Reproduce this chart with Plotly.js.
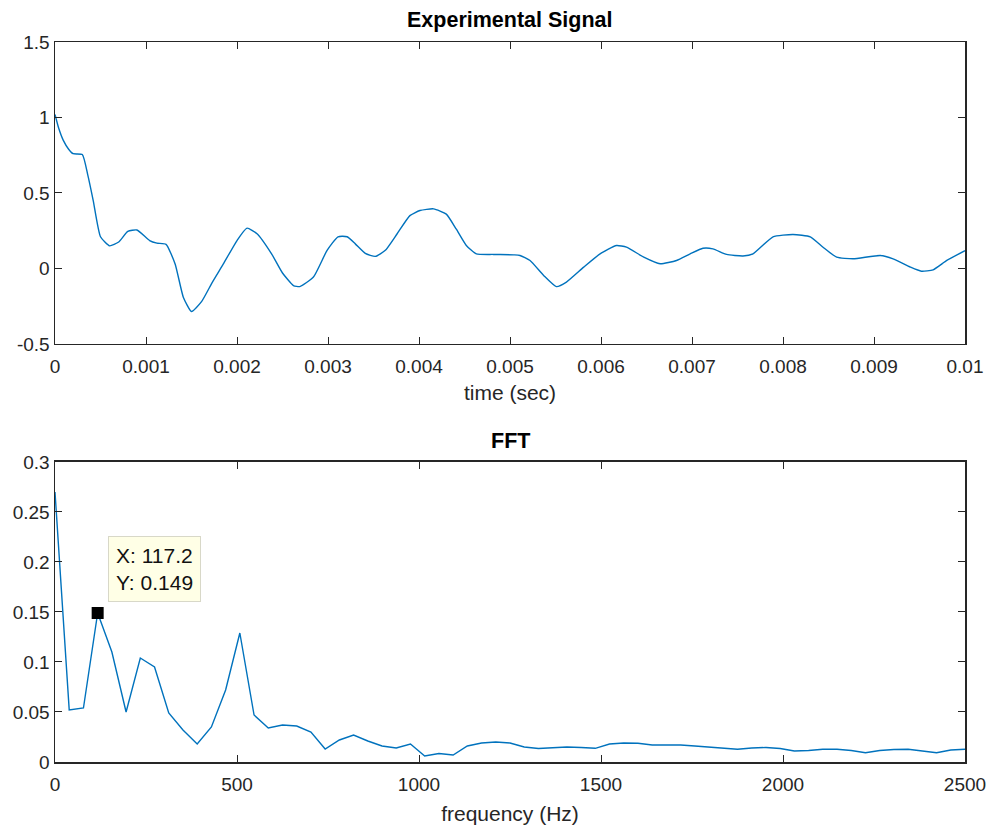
<!DOCTYPE html>
<html>
<head>
<meta charset="utf-8">
<script src="https://cdn.plot.ly/plotly-3.0.1.min.js"></script>
<style>html,body{margin:0;padding:0;background:#fff;}#chart{width:994px;height:827px;}</style>
</head>
<body>
<div id="chart"></div>
<script>
// Experimental signal (time in seconds, amplitude)
const timeSec = [0, 0.00004, 0.00009, 0.00015, 0.0002, 0.0003, 0.00036, 0.00042, 0.0005, 0.0006, 0.0007, 0.0008, 0.0009, 0.00104, 0.00112, 0.00122, 0.00132, 0.00141, 0.0015, 0.00161, 0.00173, 0.00185, 0.002, 0.00211, 0.00222, 0.00238, 0.0025, 0.00262, 0.00269, 0.00284, 0.00299, 0.00311, 0.00321, 0.0033, 0.00341, 0.00352, 0.00363, 0.00376, 0.0039, 0.00401, 0.00416, 0.0043, 0.00441, 0.00452, 0.00463, 0.00482, 0.00505, 0.00511, 0.00522, 0.00537, 0.00551, 0.00562, 0.00581, 0.00599, 0.00617, 0.00628, 0.00647, 0.00665, 0.00683, 0.00698, 0.00712, 0.00723, 0.00738, 0.00756, 0.00767, 0.00789, 0.00811, 0.0083, 0.00844, 0.00859, 0.00877, 0.00907, 0.00921, 0.0094, 0.00952, 0.00965, 0.0098, 0.01];
const signal = [1.02, 0.93, 0.85, 0.79, 0.76, 0.755, 0.62, 0.45, 0.21, 0.15, 0.175, 0.245, 0.255, 0.185, 0.168, 0.16, 0.03, -0.19, -0.285, -0.22, -0.09, 0.03, 0.185, 0.267, 0.23, 0.097, -0.03, -0.113, -0.12, -0.057, 0.12, 0.21, 0.21, 0.163, 0.10, 0.08, 0.12, 0.23, 0.35, 0.384, 0.395, 0.36, 0.26, 0.152, 0.097, 0.093, 0.09, 0.086, 0.053, -0.046, -0.12, -0.09, 0.009, 0.097, 0.152, 0.141, 0.075, 0.031, 0.053, 0.097, 0.134, 0.13, 0.093, 0.083, 0.097, 0.21, 0.225, 0.21, 0.141, 0.075, 0.064, 0.086, 0.064, 0.009, -0.018, -0.009, 0.053, 0.118];

// FFT (frequency in Hz, magnitude)
const freqHz = [0, 39.06, 78.13, 117.19, 156.25, 195.31, 234.38, 273.44, 312.5, 351.56, 390.63, 429.69, 468.75, 507.81, 546.88, 585.94, 625, 664.06, 703.13, 742.19, 781.25, 820.31, 859.38, 898.44, 937.5, 976.56, 1015.63, 1054.69, 1093.75, 1132.81, 1171.88, 1210.94, 1250, 1289.06, 1328.13, 1367.19, 1406.25, 1445.31, 1484.38, 1523.44, 1562.5, 1601.56, 1640.63, 1679.69, 1718.75, 1757.81, 1796.88, 1835.94, 1875, 1914.06, 1953.13, 1992.19, 2031.25, 2070.31, 2109.38, 2148.44, 2187.5, 2226.56, 2265.63, 2304.69, 2343.75, 2382.81, 2421.88, 2460.94, 2500];
const magnitude = [0.27, 0.052, 0.054, 0.149, 0.11, 0.05, 0.104, 0.095, 0.049, 0.032, 0.018, 0.035, 0.072, 0.129, 0.047, 0.034, 0.037, 0.036, 0.030, 0.013, 0.022, 0.027, 0.021, 0.016, 0.014, 0.018, 0.006, 0.0085, 0.007, 0.016, 0.019, 0.020, 0.019, 0.015, 0.0135, 0.014, 0.015, 0.0145, 0.0137, 0.018, 0.019, 0.0187, 0.017, 0.017, 0.017, 0.016, 0.0147, 0.0135, 0.0127, 0.014, 0.0145, 0.0135, 0.011, 0.0115, 0.0127, 0.0127, 0.0115, 0.0093, 0.0115, 0.0125, 0.0127, 0.011, 0.0093, 0.012, 0.0127];

// Data tip
const tipX = [117.2];
const tipY = [0.149];

// Tick labels
const topXTicks = [0, 0.001, 0.002, 0.003, 0.004, 0.005, 0.006, 0.007, 0.008, 0.009, 0.01];
const topXLabels = ['0', '0.001', '0.002', '0.003', '0.004', '0.005', '0.006', '0.007', '0.008', '0.009', '0.01'];
const topYTicks = [-0.5, 0, 0.5, 1, 1.5];
const topYLabels = ['-0.5', '0', '0.5', '1', '1.5'];
const botXTicks = [0, 500, 1000, 1500, 2000, 2500];
const botXLabels = ['0', '500', '1000', '1500', '2000', '2500'];
const botYTicks = [0, 0.05, 0.1, 0.15, 0.2, 0.25, 0.3];
const botYLabels = ['0', '0.05', '0.1', '0.15', '0.2', '0.25', '0.3'];

const lineColor = '#0072BD';
const axColor = '#262626';
const fontFam = 'Liberation Sans, Arial, Helvetica, sans-serif';

const traces = [
  {x: timeSec, y: signal, type: 'scatter', mode: 'lines', xaxis: 'x', yaxis: 'y',
   line: {color: lineColor, width: 1.4, shape: 'spline', smoothing: 0.5}, hoverinfo: 'skip'},
  {x: freqHz, y: magnitude, type: 'scatter', mode: 'lines', xaxis: 'x2', yaxis: 'y2',
   line: {color: lineColor, width: 1.4}, hoverinfo: 'skip'},
  {x: tipX, y: tipY, type: 'scatter', mode: 'markers', xaxis: 'x2', yaxis: 'y2',
   marker: {symbol: 'square', size: 12, color: '#000000'}, hoverinfo: 'skip'}
];

function axisBase(extra) {
  return Object.assign({
    showgrid: false, zeroline: false, showline: true, linecolor: axColor, linewidth: 1.5,
    mirror: 'ticks', ticks: 'inside', ticklen: 7, tickwidth: 1, tickcolor: axColor,
    tickfont: {family: fontFam, size: 19, color: axColor}, tickmode: 'array'
  }, extra);
}

const layout = {
  width: 994, height: 827,
  margin: {l: 55, r: 29, t: 42, b: 65},
  paper_bgcolor: '#ffffff', plot_bgcolor: '#ffffff',
  showlegend: false,
  font: {family: fontFam, color: axColor},
  xaxis: axisBase({domain: [0, 1], range: [0, 0.01], anchor: 'y', tickvals: topXTicks, ticktext: topXLabels,
    ticklabelstandoff: 5,
    title: {text: 'time (sec)', font: {family: fontFam, size: 21, color: axColor}, standoff: 9}}),
  yaxis: axisBase({domain: [0.5806, 1], range: [-0.5, 1.5], anchor: 'x', tickvals: topYTicks, ticktext: topYLabels}),
  xaxis2: axisBase({domain: [0, 1], range: [0, 2500], anchor: 'y2', tickvals: botXTicks, ticktext: botXLabels,
    ticklabelstandoff: 5,
    title: {text: 'frequency (Hz)', font: {family: fontFam, size: 21, color: axColor}, standoff: 12}}),
  yaxis2: axisBase({domain: [0, 0.41667], range: [0, 0.3], anchor: 'x2', tickvals: botYTicks, ticktext: botYLabels}),
  annotations: [
    {text: '<b>Experimental Signal</b>', xref: 'paper', yref: 'paper', x: 0.5, y: 1, yshift: 22,
     xanchor: 'center', yanchor: 'middle', showarrow: false, font: {family: fontFam, size: 21.5, color: '#000'}},
    {text: '<b>FFT</b>', xref: 'paper', yref: 'paper', x: 0.5, y: 0.41667, yshift: 21,
     xanchor: 'center', yanchor: 'middle', showarrow: false, font: {family: fontFam, size: 21.5, color: '#000'}},
    {text: 'X: ' + tipX[0] + '<br>Y: ' + tipY[0], xref: 'x2', yref: 'y2', x: tipX[0], y: tipY[0],
     xanchor: 'left', yanchor: 'bottom', xshift: 10, yshift: 11, align: 'left', showarrow: false,
     bgcolor: '#ffffe6', bordercolor: '#d8d8c8', borderwidth: 1, borderpad: 7,
     font: {family: fontFam, size: 21, color: '#111'}}
  ]
};

Plotly.newPlot('chart', traces, layout, {staticPlot: true, displayModeBar: false});
</script>
</body>
</html>
